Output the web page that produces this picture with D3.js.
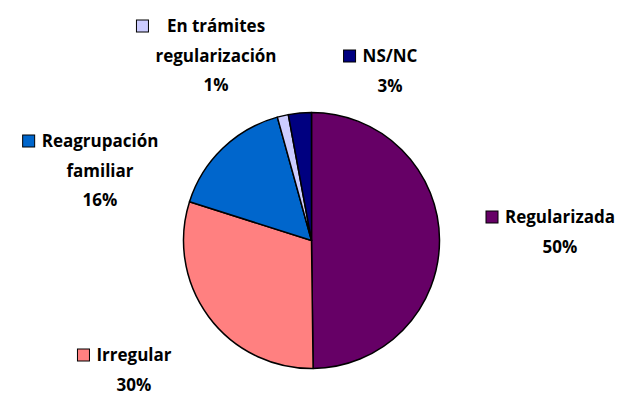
<!DOCTYPE html>
<html>
<head>
<meta charset="utf-8">
<script src="https://cdn.jsdelivr.net/npm/d3@7"></script>
<style>
  html, body { margin: 0; padding: 0; background: #fff; }
  svg { display: block; }
  .lbl { font-family: "Open Sans", Lato, sans-serif; font-weight: bold; font-size: 17px; fill: #000; }
</style>
</head>
<body>
<svg id="chart" width="627" height="405"></svg>
<script>
// ----- data ------------------------------------------------------------
const categories = ["Regularizada", "Irregular", "Reagrupación familiar", "En trámites regularización", "NS/NC"];
const values = [49.8, 30.1, 15.8, 1.4, 2.9];
const pctLabels = ["50%", "30%", "16%", "1%", "3%"];
const colors = ["#660066", "#FF8080", "#0066CC", "#CCCCFF", "#000080"];

// label text lines (Excel wraps these)
const labelLines = [
    ["Regularizada"],
    ["Irregular"],
    ["Reagrupación", "familiar"],
    ["En trámites", "regularización"],
    ["NS/NC"]
];
// label block: [center x, first baseline y]
const labelLayout = [
    [560, 223],
    [134, 361],
    [100, 147],
    [216, 32],
    [390, 62]
];

// ----- layout ----------------------------------------------------------
const svg = d3.select("#chart");
const cx = 311.5, cy = 240.5, radius = 128;
const lineH = 29.5;

const pie = d3.pie().sort(null).value((d) => d);
const arc = d3.arc().innerRadius(0).outerRadius(radius);
const arcs = pie(values);

const g = svg.append("g").attr("transform", `translate(${cx},${cy})`);
g.selectAll("path")
    .data(arcs)
    .join("path")
    .attr("d", arc)
    .attr("fill", (d, i) => colors[i])
    .attr("stroke", "#000")
    .attr("stroke-width", 1.5)
    .attr("stroke-linejoin", "round");

// ----- labels ----------------------------------------------------------
const labels = svg.append("g");
categories.forEach((c, i) => {
    const [lx, ly] = labelLayout[i];
    const lines = labelLines[i].concat([pctLabels[i]]);
    const lg = labels.append("g");
    const texts = lg.selectAll("text")
        .data(lines)
        .join("text")
        .attr("class", "lbl")
        .attr("text-anchor", "middle")
        .attr("x", lx)
        .attr("y", (d, j) => ly + j * lineH)
        .text((d) => d);
    // legend key sits left of the widest line
    let maxW = 0;
    texts.each(function () { maxW = Math.max(maxW, this.getComputedTextLength()); });
    const k = 12;
    lg.append("rect")
        .attr("x", lx - maxW / 2 - 7 - k)
        .attr("y", ly - k)
        .attr("width", k)
        .attr("height", k)
        .attr("fill", colors[i])
        .attr("stroke", "#000")
        .attr("stroke-width", 1);
});
</script>
</body>
</html>
